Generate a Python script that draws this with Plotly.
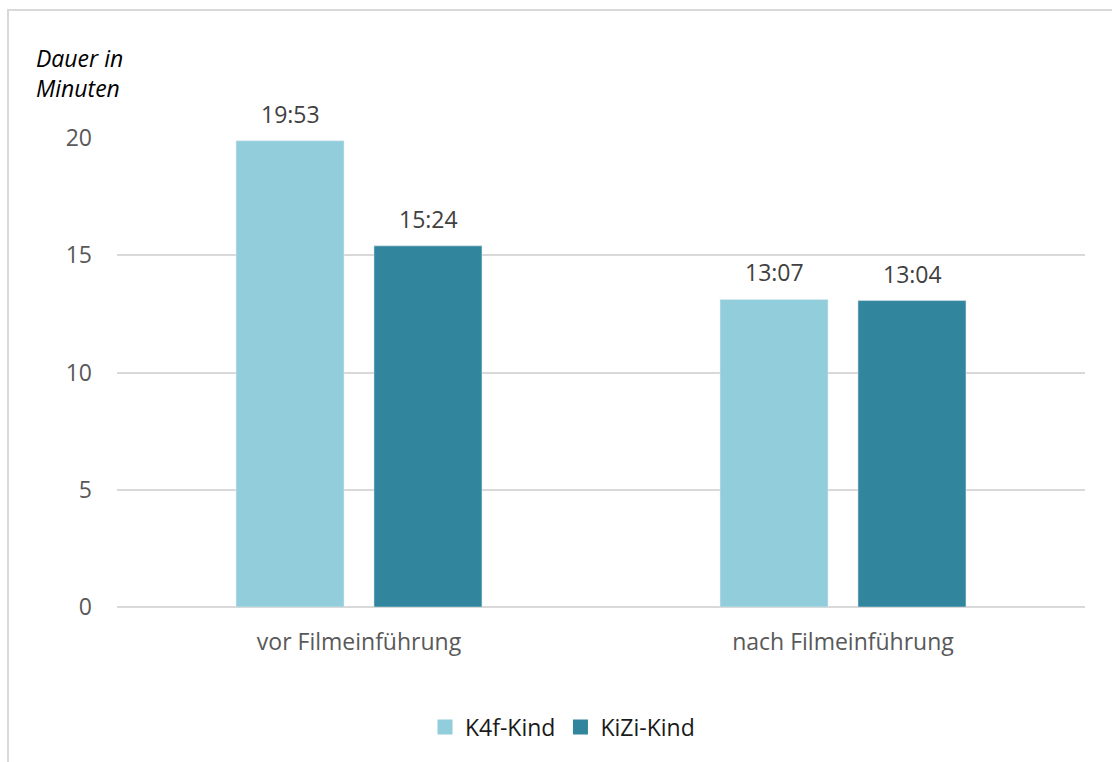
import plotly.graph_objects as go

categories = ["vor Filmeinführung", "nach Filmeinführung"]
series_names = ["K4f-Kind", "KiZi-Kind"]
k4f_minutes = [19 + 53/60, 13 + 7/60]
kizi_minutes = [15 + 24/60, 13 + 4/60]
k4f_labels = ["19:53", "13:07"]
kizi_labels = ["15:24", "13:04"]
y_ticks = [0, 5, 10, 15, 20]

colors = ["#92CDDC", "#31859C"]
FONT = "'Open Sans', 'Noto Sans', sans-serif"
FS = 23

W, H = 1112, 762
L, R, T, B = 117, 27, 138, 155
pw = W - L - R
ph = H - T - B

fig = go.Figure()
series = [
    (series_names[0], k4f_minutes, k4f_labels, colors[0], -69),
    (series_names[1], kizi_minutes, kizi_labels, colors[1], 69),
]
for name, vals, labels, col, xs in series:
    fig.add_trace(go.Bar(
        x=categories, y=vals, name=name, marker_color=col,
        showlegend=False, hoverinfo="skip",
    ))
    for c, v, lab in zip(categories, vals, labels):
        fig.add_annotation(x=c, y=v, text=lab, showarrow=False,
                           xshift=xs, yshift=9, yanchor="bottom",
                           font=dict(size=FS, color="#404040", family=FONT))

# legend entries with larger square symbols
for name, _, _, col, _ in series:
    fig.add_trace(go.Scatter(x=[None], y=[None], mode="markers", name=name,
                             marker=dict(symbol="square", size=15, color=col),
                             hoverinfo="skip"))

fig.update_layout(
    width=W, height=H,
    margin=dict(l=L, r=R, t=T, b=B),
    paper_bgcolor="white", plot_bgcolor="white",
    barmode="group", bargap=0.43, bargroupgap=0.217,
    font=dict(family=FONT, size=FS, color="#595959"),
    showlegend=True,
    legend=dict(orientation="h", x=(425 - L) / pw, xanchor="left",
                y=-(727 - (T + ph)) / ph, yanchor="middle",
                font=dict(size=FS, color="#1a1a1a"),
                itemsizing="trace", traceorder="normal", itemwidth=30),
    xaxis=dict(showgrid=False, showline=False, ticks="",
               tickfont=dict(size=FS, color="#595959"), ticklabelstandoff=19),
    yaxis=dict(range=[0, 20], tickvals=y_ticks, showgrid=True,
               gridcolor="#D9D9D9", gridwidth=1.5, zeroline=True,
               zerolinecolor="#D9D9D9", zerolinewidth=1.5,
               tickfont=dict(size=FS, color="#595959"), ticklabelstandoff=24,
               showline=False),
)

# y-axis title
fig.add_annotation(text="<i>Dauer in<br>Minuten</i>", xref="paper", yref="paper",
                   x=(34 - L) / pw, y=(T + ph - 40) / ph, xanchor="left", yanchor="top",
                   align="left", showarrow=False,
                   font=dict(size=FS, color="#000000", family=FONT))

# chart border (partially visible)
fig.add_shape(type="rect", xref="paper", yref="paper",
              x0=(8 - L) / pw, x1=(W + 20 - L) / pw,
              y0=-(H + 20 - T - ph) / ph, y1=(T + ph - 10) / ph,
              line=dict(color="#D9D9D9", width=2), layer="below")

fig.write_html("out.html")
